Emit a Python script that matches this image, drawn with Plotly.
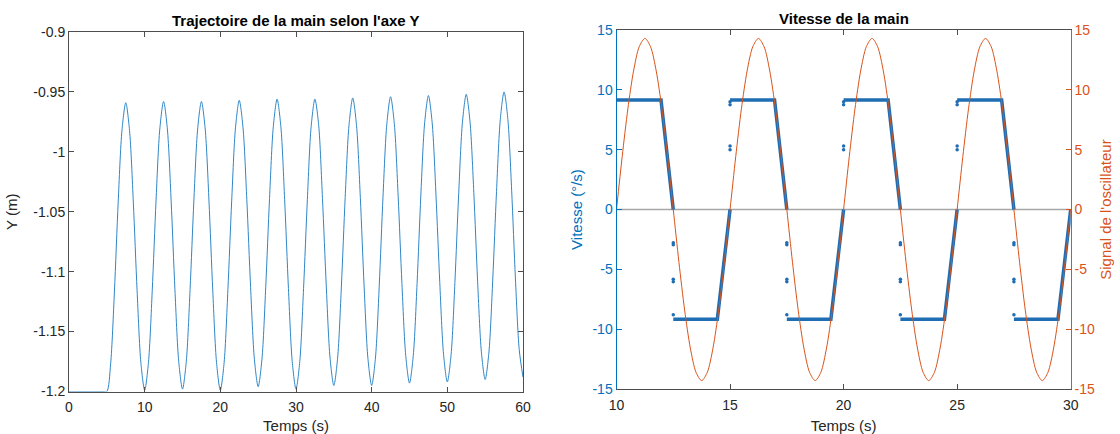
import plotly.graph_objects as go

# ---------------- Left panel data: hand trajectory along Y ----------------
traj_step = 0.5  # sampling of the read-off values (s)
traj_y = [
    -1.200, -1.200, -1.200, -1.200, -1.200, -1.200, -1.200, -1.200, -1.200, -1.200,
    -1.200, -1.177, -1.117, -1.042, -0.982, -0.959, -0.982, -1.042, -1.116, -1.176,
    -1.199, -1.176, -1.116, -1.041, -0.981, -0.958, -0.981, -1.041, -1.115, -1.175,
    -1.198, -1.175, -1.115, -1.041, -0.981, -0.958, -0.981, -1.041, -1.116, -1.176,
    -1.199, -1.176, -1.115, -1.041, -0.980, -0.957, -0.980, -1.040, -1.113, -1.173,
    -1.196, -1.173, -1.113, -1.039, -0.979, -0.956, -0.979, -1.040, -1.114, -1.175,
    -1.198, -1.175, -1.114, -1.040, -0.979, -0.956, -0.978, -1.039, -1.112, -1.172,
    -1.195, -1.172, -1.112, -1.038, -0.978, -0.955, -0.978, -1.038, -1.112, -1.172,
    -1.195, -1.172, -1.112, -1.037, -0.977, -0.954, -0.977, -1.037, -1.110, -1.170,
    -1.193, -1.170, -1.110, -1.036, -0.976, -0.953, -0.976, -1.036, -1.109, -1.169,
    -1.192, -1.169, -1.109, -1.035, -0.975, -0.952, -0.975, -1.034, -1.108, -1.167,
    -1.190, -1.167, -1.107, -1.033, -0.973, -0.950, -0.973, -1.032, -1.106, -1.165,
    -1.188,
]
traj_t = [i * traj_step for i in range(len(traj_y))]

left_xticks = [0, 10, 20, 30, 40, 50, 60]
left_yticks = [-1.2, -1.15, -1.1, -1.05, -1.0, -0.95, -0.9]
left_yticktext = ["-1.2", "-1.15", "-1.1", "-1.05", "-1", "-0.95", "-0.9"]

# ---------------- Right panel data: hand speed + oscillator ----------------
osc_step = 0.25
osc_start = 10.0
osc_v = [
    0.00, 4.42, 8.41, 11.57, 13.60, 14.30, 13.60, 11.57, 8.41, 4.42,
    0.00, -4.42, -8.41, -11.57, -13.60, -14.30, -13.60, -11.57, -8.41, -4.42,
    0.00, 4.42, 8.41, 11.57, 13.60, 14.30, 13.60, 11.57, 8.41, 4.42,
    0.00, -4.42, -8.41, -11.57, -13.60, -14.30, -13.60, -11.57, -8.41, -4.42,
    0.00, 4.42, 8.41, 11.57, 13.60, 14.30, 13.60, 11.57, 8.41, 4.42,
    0.00, -4.42, -8.41, -11.57, -13.60, -14.30, -13.60, -11.57, -8.41, -4.42,
    0.00, 4.42, 8.41, 11.57, 13.60, 14.30, 13.60, 11.57, 8.41, 4.42,
    0.00, -4.42, -8.41, -11.57, -13.60, -14.30, -13.60, -11.57, -8.41, -4.42,
    0.00,
]
osc_t = [osc_start + i * osc_step for i in range(len(osc_v))]

# speed: plateaus and ramps (key points), None separates segments
vel_t = [10.00, 11.96, 12.50, None, 12.50, 14.44, 15.00, None,
         15.00, 16.96, 17.50, None, 17.50, 19.44, 20.00, None,
         20.00, 21.96, 22.50, None, 22.50, 24.44, 25.00, None,
         25.00, 26.96, 27.50, None, 27.50, 29.44, 30.00]
vel_v = [9.15, 9.15, 0.00, None, -9.17, -9.17, 0.00, None,
         9.15, 9.15, 0.00, None, -9.17, -9.17, 0.00, None,
         9.15, 9.15, 0.00, None, -9.17, -9.17, 0.00, None,
         9.15, 9.15, 0.00, None, -9.17, -9.17, 0.00]
# isolated transient samples
out_t = [12.5, 12.5, 12.5, 12.5, 12.5,
         15.0, 15.0, 15.0, 15.0,
         17.5, 17.5, 17.5, 17.5, 17.5,
         20.0, 20.0, 20.0, 20.0,
         22.5, 22.5, 22.5, 22.5, 22.5,
         25.0, 25.0, 25.0, 25.0,
         27.5, 27.5, 27.5, 27.5, 27.5]
out_v = [-2.77, -2.95, -5.83, -6.03, -8.80,
         5.00, 5.30, 8.75, 9.00,
         -2.77, -2.95, -5.83, -6.03, -8.80,
         5.00, 5.30, 8.75, 9.00,
         -2.77, -2.95, -5.83, -6.03, -8.80,
         5.00, 5.30, 8.75, 9.00,
         -2.77, -2.95, -5.83, -6.03, -8.80]

right_xticks = [10, 15, 20, 25, 30]
right_yticks = [-15, -10, -5, 0, 5, 10, 15]
right_yticktext = ["-15", "-10", "-5", "0", "5", "10", "15"]

# ---------------- styling ----------------
FONT = "Liberation Sans, Arial, Helvetica, sans-serif"
AX = "#4d4d4d"
TXT = "#262626"
BLUE = "#0072BD"
LBLUE = "#2f86c6"
ORANGE = "#D95319"
W, H = 1120, 434


def px(xp):
    return xp / W


def py(yp):
    return 1 - yp / H


fig = go.Figure()
fig.add_trace(go.Scatter(x=traj_t, y=traj_y, mode="lines",
                         line=dict(color=LBLUE, width=1, shape="spline", smoothing=0.8),
                         xaxis="x", yaxis="y", showlegend=False))
fig.add_trace(go.Scatter(x=osc_t, y=osc_v, mode="lines",
                         line=dict(color=ORANGE, width=1, shape="spline", smoothing=0.8),
                         xaxis="x2", yaxis="y3", showlegend=False))
fig.add_trace(go.Scatter(x=vel_t, y=vel_v, mode="lines",
                         line=dict(color="#1f6db3", width=3.5),
                         xaxis="x2", yaxis="y2", showlegend=False, connectgaps=False))
fig.add_trace(go.Scatter(x=out_t, y=out_v, mode="markers",
                         marker=dict(color="#1f6db3", size=3.5),
                         xaxis="x2", yaxis="y2", showlegend=False))

common = dict(showgrid=False, zeroline=False, showline=True, linewidth=1,
              ticks="inside", ticklen=5, tickwidth=1, automargin=False,
              tickfont=dict(family=FONT, size=14, color=TXT))

fig.update_layout(
    template="none",
    width=W, height=H,
    margin=dict(l=0, r=0, t=0, b=0, pad=0),
    paper_bgcolor="white", plot_bgcolor="white",
    font=dict(family=FONT, color=TXT),
    xaxis=dict(domain=[px(69), px(523)], range=[0, 60], tickvals=left_xticks,
               linecolor=AX, tickcolor=AX, mirror="ticks", anchor="y",
               ticklabelstandoff=3,
               title=dict(text="Temps (s)", font=dict(size=15, color=TXT), standoff=8),
               **common),
    yaxis=dict(domain=[py(391.5), py(32)], range=[-1.2, -0.9], tickvals=left_yticks,
               ticktext=left_yticktext, linecolor=AX, tickcolor=AX, mirror="ticks",
               anchor="x",
               title=dict(text="Y (m)", font=dict(size=15, color=TXT), standoff=12),
               **common),
    xaxis2=dict(domain=[px(616.5), px(1070.7)], range=[10, 30], tickvals=right_xticks,
                linecolor=AX, tickcolor=AX, mirror="ticks", anchor="y2",
                ticklabelstandoff=3,
                title=dict(text="Temps (s)", font=dict(size=15, color=TXT), standoff=8),
                **common),
    yaxis2=dict(domain=[py(389), py(30)], range=[-15, 15], tickvals=right_yticks,
                ticktext=right_yticktext, linecolor=BLUE, tickcolor=BLUE,
                anchor="x2", side="left",
                title=dict(text="Vitesse (°/s)", font=dict(size=15, color=BLUE), standoff=6),
                **{**common, "tickfont": dict(family=FONT, size=14, color=BLUE)}),
    yaxis3=dict(range=[-15, 15], tickvals=right_yticks, ticktext=right_yticktext,
                linecolor=ORANGE, tickcolor=ORANGE, anchor="x2", overlaying="y2",
                side="right",
                title=dict(text="Signal de l'oscillateur", font=dict(size=15, color=ORANGE),
                           standoff=6),
                **{**common, "tickfont": dict(family=FONT, size=14, color=ORANGE)}),
    shapes=[dict(type="line", xref="x2", yref="y2", x0=10, x1=30, y0=0, y1=0,
                 line=dict(color="#a6a6a6", width=1.5), layer="below")],
    annotations=[
        dict(text="<b>Trajectoire de la main selon l'axe Y</b>", xref="paper", yref="paper",
             x=px(296), y=py(21), xanchor="center", yanchor="middle", showarrow=False,
             font=dict(family=FONT, size=15, color="#000000")),
        dict(text="<b>Vitesse de la main</b>", xref="paper", yref="paper",
             x=px(843.6), y=py(19), xanchor="center", yanchor="middle", showarrow=False,
             font=dict(family=FONT, size=15, color="#000000")),
    ],
)

fig.write_html("out.html", config={"displayModeBar": False},
               post_script="document.body.style.margin='0';document.body.style.padding='0';")
